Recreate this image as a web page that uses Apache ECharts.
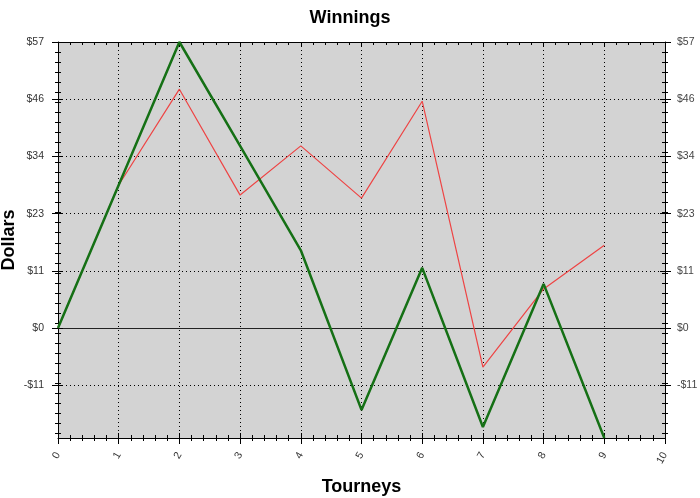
<!DOCTYPE html>
<html><head><meta charset="utf-8">
<script src="https://cdn.jsdelivr.net/npm/echarts@6/dist/echarts.min.js"></script>
<style>html,body{margin:0;padding:0;background:#fff}#c{width:700px;height:498px}</style>
</head><body><div id="c"></div>
<script>
const tourneys = [0, 1, 2, 3, 4, 5, 6, 7, 8, 9];
const greenValues = [0, 28.5, 57, 36.3, 15.5, -16.3, 12.0, -19.7, 8.8, -21.9];
const redValues = [0, 28.5, 47.6, 26.5, 36.3, 25.9, 45.2, -7.8, 7.8, 16.5];
const yMajorTicks = [-11.4, 0, 11.4, 22.8, 34.2, 45.6, 57];
const yMinorTicks = [57, 55, 53, 51, 49, 47, 45, 43, 41, 39, 37, 35, 33, 31, 29, 27, 25, 23, 21, 19, 17, 15, 13, 11, 9, 7, 5, 3, 1, -1, -3, -5, -7, -9, -11, -13, -15, -17, -19, -21];
const zeroLine = [0];
const yMin = -21.9, yMax = 57;
const xMin = 0, xMax = 10;

const FONT = '"Liberation Sans", Arial, sans-serif';
const fmt = v => (v < 0 ? '-$' : '$') + Math.round(Math.abs(v));

function yAx(extra) {
  const base = {
    type: 'value', min: yMin, max: yMax, position: 'left',
    axisLine: { show: false }, axisLabel: { show: false },
    splitLine: { show: false }, axisTick: { show: false }
  };
  return Object.assign(base, extra);
}
function tick(vals, inside, len) {
  return { show: true, customValues: vals, inside: inside, length: len, lineStyle: { color: '#000', width: 1 } };
}
const labelStyle = { show: true, customValues: yMajorTicks, formatter: fmt, fontSize: 10.5, color: '#333', fontFamily: FONT, margin: 14 };

const yAxes = [
  yAx({ position: 'left', axisLine: { show: true, lineStyle: { color: '#000' } },
        axisTick: tick(yMajorTicks, false, 6), axisLabel: labelStyle,
        splitLine: { show: true, lineStyle: { color: '#000', type: [1, 3], width: 1 } },
        name: 'Dollars', nameLocation: 'middle', nameGap: 40, nameMoveOverlap: false,
        nameTextStyle: { fontSize: 18, fontWeight: 'bold', color: '#000', fontFamily: FONT } }),
  yAx({ position: 'left', axisTick: tick(yMajorTicks, true, 5) }),
  yAx({ position: 'left', axisTick: tick(yMinorTicks, false, 3) }),
  yAx({ position: 'left', axisTick: tick(yMinorTicks, true, 3) }),
  yAx({ position: 'right', axisLine: { show: true, lineStyle: { color: '#000' } },
        axisTick: tick(yMajorTicks, false, 6), axisLabel: Object.assign({}, labelStyle, { color: '#444', margin: 12 }) }),
  yAx({ position: 'right', axisTick: tick(yMajorTicks, true, 5) }),
  yAx({ position: 'right', axisTick: tick(yMinorTicks, false, 3) }),
  yAx({ position: 'right', axisTick: tick(yMinorTicks, true, 3) }),
  yAx({ position: 'left', axisTick: { show: false, customValues: zeroLine },
        splitLine: { show: true, lineStyle: { color: '#222', type: 'solid', width: 1 } } })
];

function xAx(extra) {
  const base = {
    type: 'value', min: xMin, max: xMax, interval: 1, position: 'bottom',
    axisLine: { show: false }, axisLabel: { show: false }, splitLine: { show: false },
    axisTick: { show: false }, minorTick: { show: false }
  };
  return Object.assign(base, extra);
}
const xAxes = [
  xAx({ position: 'bottom', axisLine: { show: true, onZero: false, lineStyle: { color: '#000' } },
        axisTick: { show: true, inside: false, length: 6, lineStyle: { color: '#000' } },
        minorTick: { show: true, splitNumber: 5, length: 3, lineStyle: { color: '#000' } },
        axisLabel: { show: true, rotate: 60, margin: 15, fontSize: 10.5, color: '#333', fontFamily: FONT },
        splitLine: { show: true, lineStyle: { color: '#000', type: [1, 3], width: 1 } },
        name: 'Tourneys', nameLocation: 'middle', nameGap: 40,
        nameTextStyle: { fontSize: 18, fontWeight: 'bold', color: '#000', fontFamily: FONT } }),
  xAx({ position: 'bottom', axisLine: { show: false, onZero: false },
        axisTick: { show: true, inside: true, length: 5, lineStyle: { color: '#000' } },
        minorTick: { show: true, splitNumber: 5, length: 3, lineStyle: { color: '#000' } } }),
  xAx({ position: 'top', axisLine: { show: true, onZero: false, lineStyle: { color: '#000' } },
        axisTick: { show: true, inside: true, length: 5, lineStyle: { color: '#000' } },
        minorTick: { show: true, splitNumber: 5, length: 3, lineStyle: { color: '#000' } } })
];

const chart = echarts.init(document.getElementById('c'), null, { renderer: 'canvas' });
chart.setOption({
  animation: false,
  backgroundColor: '#fff',
  title: { text: 'Winnings', left: 'center', top: 4,
           textStyle: { fontSize: 18, fontWeight: 'bold', color: '#000', fontFamily: FONT } },
  grid: { left: 58, right: 35, top: 42, bottom: 60, show: true, backgroundColor: '#d3d3d3',
          borderWidth: 0, containLabel: false, outerBoundsMode: 'none' },
  xAxis: xAxes,
  yAxis: yAxes,
  series: [
    { type: 'line', name: 'red', xAxisIndex: 0, yAxisIndex: 0, showSymbol: false, symbol: 'none',
      data: tourneys.map((t, i) => [t, redValues[i]]),
      lineStyle: { color: '#ee4444', width: 1.2 }, z: 3 },
    { type: 'line', name: 'green', xAxisIndex: 0, yAxisIndex: 0, showSymbol: false, symbol: 'none',
      data: tourneys.map((t, i) => [t, greenValues[i]]),
      lineStyle: { color: '#157015', width: 2.5 }, z: 4 }
  ]
});
</script></body></html>
